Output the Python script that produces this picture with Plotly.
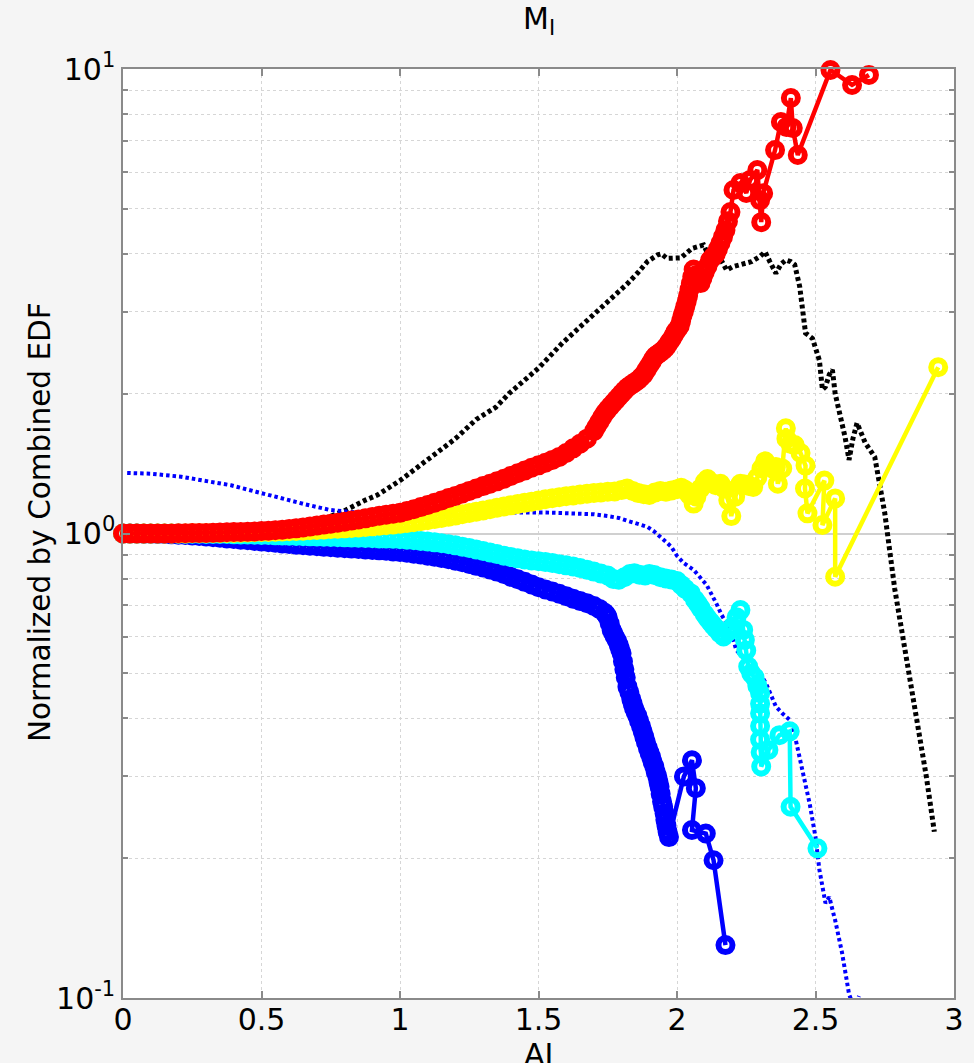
import plotly.graph_objects as go

# ---- Normalized EDF curves: (AI, ratio to combined EDF) pairs, in drawing order ----
red_pts = [
    (0.000, 1.000), (0.025, 1.000), (0.050, 1.000), (0.075, 1.000), (0.100, 1.000),
    (0.125, 1.000), (0.150, 1.000), (0.175, 1.000), (0.200, 1.001), (0.225, 1.001),
    (0.250, 1.002), (0.275, 1.002), (0.300, 1.003), (0.325, 1.004), (0.350, 1.005),
    (0.375, 1.006), (0.400, 1.007), (0.425, 1.008), (0.450, 1.009), (0.475, 1.010),
    (0.500, 1.012), (0.525, 1.014), (0.550, 1.016), (0.575, 1.019), (0.600, 1.022),
    (0.625, 1.026), (0.650, 1.030), (0.675, 1.035), (0.700, 1.040), (0.725, 1.045),
    (0.750, 1.050), (0.775, 1.055), (0.800, 1.060), (0.825, 1.066), (0.850, 1.072),
    (0.875, 1.078), (0.900, 1.085), (0.925, 1.092), (0.950, 1.098), (0.975, 1.103),
    (1.000, 1.108), (1.025, 1.118), (1.050, 1.128), (1.075, 1.140), (1.100, 1.152),
    (1.125, 1.165), (1.150, 1.178), (1.175, 1.192), (1.200, 1.205), (1.225, 1.220),
    (1.250, 1.235), (1.275, 1.250), (1.300, 1.265), (1.325, 1.280), (1.350, 1.295),
    (1.375, 1.312), (1.400, 1.330), (1.425, 1.348), (1.450, 1.366), (1.475, 1.385),
    (1.500, 1.402), (1.525, 1.420), (1.550, 1.440), (1.575, 1.462), (1.600, 1.490),
    (1.625, 1.525), (1.650, 1.560), (1.675, 1.600), (1.700, 1.660), (1.710, 1.700),
    (1.720, 1.740), (1.730, 1.780), (1.740, 1.820), (1.750, 1.850), (1.760, 1.880),
    (1.770, 1.910), (1.780, 1.940), (1.790, 1.970), (1.800, 2.000), (1.810, 2.030),
    (1.820, 2.060), (1.830, 2.080), (1.840, 2.100), (1.850, 2.120), (1.860, 2.140),
    (1.870, 2.170), (1.880, 2.200), (1.890, 2.250), (1.900, 2.300), (1.908, 2.340),
    (1.915, 2.380), (1.922, 2.410), (1.930, 2.430), (1.940, 2.455), (1.950, 2.480),
    (1.958, 2.510), (1.965, 2.540), (1.972, 2.580), (1.980, 2.620), (1.988, 2.670),
    (1.995, 2.720), (2.003, 2.760), (2.010, 2.800), (2.015, 2.870), (2.020, 2.950),
    (2.025, 3.010), (2.030, 3.080), (2.035, 3.160), (2.040, 3.250), (2.045, 3.350),
    (2.050, 3.450), (2.055, 3.570), (2.060, 3.700), (2.070, 3.600), (2.078, 3.530),
    (2.085, 3.460), (2.092, 3.550), (2.100, 3.650), (2.110, 3.760), (2.120, 3.880),
    (2.130, 3.940), (2.140, 4.000), (2.148, 4.100), (2.157, 4.220), (2.166, 4.350),
    (2.175, 4.500), (2.184, 4.700), (2.193, 4.920), (2.204, 5.490), (2.229, 5.680),
    (2.250, 5.410), (2.264, 5.770), (2.290, 6.060), (2.300, 5.220), (2.304, 4.680),
    (2.311, 5.400), (2.354, 6.690), (2.375, 7.690), (2.395, 7.500), (2.411, 8.660),
    (2.418, 7.460), (2.436, 6.530), (2.554, 9.950), (2.632, 9.240), (2.693, 9.710),
]

yellow_pts = [
    (0.000, 1.000), (0.025, 1.000), (0.050, 1.000), (0.075, 1.000), (0.100, 1.000),
    (0.125, 1.000), (0.150, 1.000), (0.175, 1.000), (0.200, 1.000), (0.225, 1.000),
    (0.250, 1.001), (0.275, 1.001), (0.300, 1.001), (0.325, 1.002), (0.350, 1.002),
    (0.375, 1.003), (0.400, 1.003), (0.425, 1.004), (0.450, 1.005), (0.475, 1.006),
    (0.500, 1.007), (0.525, 1.008), (0.550, 1.009), (0.575, 1.010), (0.600, 1.011),
    (0.625, 1.013), (0.650, 1.014), (0.675, 1.016), (0.700, 1.018), (0.725, 1.020),
    (0.750, 1.022), (0.775, 1.024), (0.800, 1.026), (0.825, 1.028), (0.850, 1.030),
    (0.875, 1.033), (0.900, 1.036), (0.925, 1.039), (0.950, 1.042), (0.975, 1.045),
    (1.000, 1.049), (1.025, 1.053), (1.050, 1.058), (1.075, 1.063), (1.100, 1.068),
    (1.125, 1.074), (1.150, 1.080), (1.175, 1.086), (1.200, 1.093), (1.225, 1.100),
    (1.250, 1.107), (1.275, 1.114), (1.300, 1.121), (1.325, 1.128), (1.350, 1.136),
    (1.375, 1.143), (1.400, 1.150), (1.425, 1.157), (1.450, 1.164), (1.475, 1.171),
    (1.500, 1.178), (1.525, 1.185), (1.550, 1.191), (1.575, 1.197), (1.600, 1.203),
    (1.625, 1.208), (1.650, 1.213), (1.675, 1.218), (1.700, 1.222), (1.725, 1.226),
    (1.750, 1.230), (1.775, 1.232), (1.800, 1.240), (1.820, 1.250), (1.840, 1.235),
    (1.860, 1.222), (1.880, 1.215), (1.900, 1.210), (1.920, 1.225), (1.940, 1.235),
    (1.960, 1.230), (1.980, 1.238), (2.000, 1.245), (2.015, 1.255), (2.030, 1.240),
    (2.045, 1.210), (2.060, 1.160), (2.070, 1.200), (2.085, 1.250), (2.100, 1.290),
    (2.110, 1.310), (2.125, 1.285), (2.140, 1.270), (2.157, 1.280), (2.170, 1.250),
    (2.185, 1.180), (2.196, 1.090), (2.210, 1.200), (2.229, 1.280), (2.245, 1.275),
    (2.260, 1.265), (2.275, 1.260), (2.290, 1.320), (2.305, 1.380), (2.318, 1.430),
    (2.330, 1.400), (2.345, 1.380), (2.357, 1.390), (2.364, 1.280), (2.380, 1.380),
    (2.393, 1.685), (2.395, 1.600), (2.410, 1.560), (2.425, 1.550), (2.446, 1.490),
    (2.464, 1.400), (2.462, 1.250), (2.471, 1.105), (2.532, 1.300), (2.525, 1.043),
    (2.571, 1.190), (2.571, 0.807), (2.943, 2.280),
]

cyan_pts = [
    (0.000, 1.000), (0.025, 1.000), (0.050, 1.000), (0.075, 1.000), (0.100, 1.000),
    (0.125, 1.000), (0.150, 1.000), (0.175, 1.000), (0.200, 1.000), (0.225, 0.999),
    (0.250, 0.999), (0.275, 0.999), (0.300, 0.998), (0.325, 0.998), (0.350, 0.997),
    (0.375, 0.997), (0.400, 0.996), (0.425, 0.995), (0.450, 0.995), (0.475, 0.994),
    (0.500, 0.993), (0.525, 0.992), (0.550, 0.991), (0.575, 0.990), (0.600, 0.989),
    (0.625, 0.988), (0.650, 0.987), (0.675, 0.986), (0.700, 0.985), (0.725, 0.984),
    (0.750, 0.983), (0.775, 0.982), (0.800, 0.981), (0.825, 0.980), (0.850, 0.979),
    (0.875, 0.978), (0.900, 0.977), (0.925, 0.976), (0.950, 0.975), (0.975, 0.974),
    (1.000, 0.972), (1.025, 0.970), (1.050, 0.967), (1.075, 0.964), (1.100, 0.961),
    (1.125, 0.957), (1.150, 0.953), (1.175, 0.948), (1.200, 0.943), (1.225, 0.937),
    (1.250, 0.931), (1.275, 0.924), (1.300, 0.917), (1.325, 0.910), (1.350, 0.903),
    (1.375, 0.896), (1.400, 0.890), (1.425, 0.884), (1.450, 0.879), (1.475, 0.875),
    (1.500, 0.872), (1.525, 0.868), (1.550, 0.864), (1.575, 0.859), (1.600, 0.854),
    (1.625, 0.849), (1.650, 0.843), (1.675, 0.836), (1.700, 0.828), (1.725, 0.820),
    (1.750, 0.812), (1.770, 0.798), (1.790, 0.795), (1.810, 0.805), (1.830, 0.818),
    (1.846, 0.821), (1.865, 0.815), (1.885, 0.812), (1.900, 0.818), (1.918, 0.814),
    (1.940, 0.805), (1.960, 0.800), (1.980, 0.796), (2.000, 0.790), (2.015, 0.775),
    (2.030, 0.760), (2.050, 0.743), (2.065, 0.720), (2.076, 0.705), (2.086, 0.690),
    (2.100, 0.670), (2.110, 0.657), (2.121, 0.645), (2.130, 0.635), (2.140, 0.625),
    (2.155, 0.610), (2.168, 0.600), (2.185, 0.615), (2.200, 0.630), (2.215, 0.660),
    (2.229, 0.684), (2.239, 0.620), (2.245, 0.590), (2.250, 0.560), (2.257, 0.517),
    (2.268, 0.500), (2.280, 0.490), (2.290, 0.470), (2.300, 0.453), (2.300, 0.430),
    (2.300, 0.410), (2.300, 0.385), (2.300, 0.360), (2.302, 0.338), (2.304, 0.315),
    (2.330, 0.342), (2.370, 0.368), (2.407, 0.375), (2.410, 0.258), (2.507, 0.210),
]

blue_pts = [
    (0.000, 1.000), (0.025, 1.000), (0.050, 1.000), (0.075, 0.999), (0.100, 0.999),
    (0.125, 0.998), (0.150, 0.997), (0.175, 0.996), (0.200, 0.994), (0.225, 0.992),
    (0.250, 0.990), (0.275, 0.988), (0.300, 0.985), (0.325, 0.982), (0.350, 0.979),
    (0.375, 0.976), (0.400, 0.973), (0.425, 0.970), (0.450, 0.967), (0.475, 0.964),
    (0.500, 0.961), (0.525, 0.958), (0.550, 0.955), (0.575, 0.952), (0.600, 0.949),
    (0.625, 0.946), (0.650, 0.944), (0.675, 0.941), (0.700, 0.939), (0.725, 0.936),
    (0.750, 0.934), (0.775, 0.932), (0.800, 0.930), (0.825, 0.928), (0.850, 0.926),
    (0.875, 0.924), (0.900, 0.922), (0.925, 0.920), (0.950, 0.918), (0.975, 0.915),
    (1.000, 0.912), (1.025, 0.909), (1.050, 0.905), (1.075, 0.901), (1.100, 0.896),
    (1.125, 0.891), (1.150, 0.886), (1.175, 0.880), (1.200, 0.874), (1.225, 0.867),
    (1.250, 0.860), (1.275, 0.852), (1.300, 0.845), (1.325, 0.837), (1.350, 0.828),
    (1.375, 0.818), (1.400, 0.807), (1.425, 0.797), (1.450, 0.787), (1.475, 0.777),
    (1.500, 0.766), (1.525, 0.758), (1.550, 0.750), (1.575, 0.742), (1.600, 0.733),
    (1.625, 0.724), (1.650, 0.716), (1.675, 0.708), (1.700, 0.698), (1.720, 0.688),
    (1.739, 0.675), (1.745, 0.668), (1.750, 0.660), (1.757, 0.640), (1.764, 0.620),
    (1.770, 0.610), (1.775, 0.600), (1.783, 0.588), (1.790, 0.575), (1.795, 0.563),
    (1.800, 0.552), (1.805, 0.530), (1.810, 0.510), (1.815, 0.490), (1.821, 0.468),
    (1.828, 0.455), (1.835, 0.440), (1.840, 0.430), (1.845, 0.420), (1.851, 0.412),
    (1.857, 0.405), (1.863, 0.395), (1.870, 0.385), (1.876, 0.375), (1.882, 0.365),
    (1.888, 0.355), (1.895, 0.345), (1.901, 0.337), (1.907, 0.330), (1.912, 0.322),
    (1.918, 0.315), (1.923, 0.307), (1.929, 0.300), (1.933, 0.292), (1.937, 0.285),
    (1.941, 0.275), (1.946, 0.265), (1.950, 0.258), (1.955, 0.250), (1.958, 0.242),
    (1.962, 0.235), (1.966, 0.228), (1.971, 0.222), (2.025, 0.300), (2.054, 0.325),
    (2.068, 0.283), (2.054, 0.230), (2.104, 0.226), (2.132, 0.198), (2.175, 0.130),
]

black_pts = [
    (0.000, 1.000), (0.100, 1.000), (0.200, 1.002), (0.300, 1.005), (0.400, 1.010),
    (0.500, 1.020), (0.600, 1.035), (0.700, 1.060), (0.733, 1.078), (0.800, 1.120),
    (0.875, 1.180), (0.918, 1.210), (1.000, 1.300), (1.036, 1.350), (1.100, 1.440),
    (1.157, 1.530), (1.200, 1.600), (1.275, 1.760), (1.346, 1.870), (1.393, 2.000),
    (1.464, 2.170), (1.500, 2.270), (1.586, 2.570), (1.650, 2.780), (1.704, 2.980),
    (1.760, 3.200), (1.821, 3.450), (1.860, 3.650), (1.893, 3.850), (1.930, 3.980),
    (1.943, 4.000), (1.964, 3.910), (1.990, 3.920), (2.014, 3.920), (2.054, 4.110),
    (2.075, 4.150), (2.096, 4.180), (2.120, 3.900), (2.140, 3.800), (2.157, 3.900),
    (2.179, 3.690), (2.200, 3.750), (2.239, 3.810), (2.270, 3.850), (2.300, 3.950),
    (2.318, 4.040), (2.335, 3.850), (2.357, 3.630), (2.375, 3.800), (2.393, 3.880),
    (2.410, 3.850), (2.425, 3.790), (2.443, 3.400), (2.464, 2.700), (2.489, 2.630),
    (2.500, 2.500), (2.514, 2.360), (2.525, 2.040), (2.536, 2.070), (2.550, 2.200),
    (2.561, 2.250), (2.571, 2.000), (2.590, 1.800), (2.607, 1.610), (2.621, 1.440),
    (2.635, 1.600), (2.650, 1.730), (2.665, 1.650), (2.679, 1.570), (2.714, 1.460),
    (2.730, 1.300), (2.750, 1.107), (2.786, 0.760), (2.820, 0.580), (2.860, 0.420),
    (2.900, 0.300), (2.929, 0.228),
]

bluedot_pts = [
    (0.015, 1.350), (0.100, 1.345), (0.210, 1.325), (0.300, 1.300), (0.390, 1.270),
    (0.480, 1.230), (0.570, 1.190), (0.660, 1.155), (0.746, 1.124), (0.800, 1.115),
    (0.875, 1.105), (0.950, 1.100), (1.000, 1.100), (1.100, 1.100), (1.200, 1.105),
    (1.300, 1.110), (1.400, 1.112), (1.464, 1.108), (1.518, 1.110), (1.580, 1.107),
    (1.632, 1.105), (1.700, 1.100), (1.750, 1.090), (1.790, 1.080), (1.821, 1.065),
    (1.860, 1.050), (1.893, 1.034), (1.918, 1.010), (1.954, 0.968), (1.979, 0.937),
    (2.000, 0.895), (2.025, 0.863), (2.060, 0.835), (2.086, 0.800), (2.107, 0.775),
    (2.143, 0.705), (2.161, 0.668), (2.193, 0.620), (2.214, 0.561), (2.240, 0.540),
    (2.275, 0.517), (2.300, 0.500), (2.321, 0.476), (2.340, 0.450), (2.357, 0.424),
    (2.380, 0.410), (2.407, 0.397), (2.429, 0.359), (2.454, 0.310), (2.479, 0.262),
    (2.500, 0.222), (2.514, 0.189), (2.536, 0.160), (2.550, 0.165), (2.561, 0.155),
    (2.571, 0.147), (2.596, 0.125), (2.621, 0.102), (2.640, 0.095), (2.657, 0.101),
]

x_ticks = [0, 0.5, 1, 1.5, 2, 2.5, 3]
x_tick_text = ["0", "0.5", "1", "1.5", "2", "2.5", "3"]
y_ticks = [0.1, 1, 10]
y_tick_text = ["10<sup>-1</sup>", "10<sup>0</sup>", "10<sup>1</sup>"]
y_minor = [0.2, 0.3, 0.4, 0.5, 0.6, 0.7, 0.8, 0.9, 2, 3, 4, 5, 6, 7, 8, 9]

FONT = "DejaVu Sans, Verdana, sans-serif"
AXIS_GRAY = "#8a8a8a"
GRID_GRAY = "#d6d6d6"


def xs(pts):
    return [p[0] for p in pts]


def ys(pts):
    return [p[1] for p in pts]


fig = go.Figure()

# dotted reference curves (drawn underneath the marker curves)
fig.add_trace(go.Scatter(x=xs(black_pts), y=ys(black_pts), mode="lines",
                         line=dict(color="black", width=5, dash="4px,3px"),
                         showlegend=False))
fig.add_trace(go.Scatter(x=xs(bluedot_pts), y=ys(bluedot_pts), mode="lines",
                         line=dict(color="#0000ff", width=4, dash="3.5px,3px"),
                         showlegend=False))


def marker_curve(pts, color):
    return go.Scatter(
        x=xs(pts), y=ys(pts), mode="lines+markers",
        line=dict(color=color, width=4.5),
        marker=dict(symbol="circle-open", size=14, color=color,
                    line=dict(width=6, color=color)),
        cliponaxis=False, showlegend=False)


fig.add_trace(marker_curve(blue_pts, "#0000ff"))
fig.add_trace(marker_curve(cyan_pts, "#00ffff"))
fig.add_trace(marker_curve(yellow_pts, "#ffff00"))
fig.add_trace(marker_curve(red_pts, "#ff0000"))

fig.update_layout(
    width=974, height=1063,
    margin=dict(l=123, r=10, t=69, b=65),
    paper_bgcolor="#f5f5f5",
    plot_bgcolor="white",
    font=dict(family=FONT, size=30, color="black"),
    xaxis=dict(
        range=[0, 3], tickmode="array", tickvals=x_ticks, ticktext=x_tick_text,
        showline=True, linecolor=AXIS_GRAY, linewidth=1.5, mirror="ticks",
        ticks="inside", ticklen=7, tickcolor=AXIS_GRAY, tickwidth=1.5,
        showgrid=True, gridcolor=GRID_GRAY, griddash="dot", gridwidth=1,
        zeroline=False, tickfont=dict(size=30), ticklabelstandoff=-6,
    ),
    yaxis=dict(
        type="log", range=[-1, 1], tickmode="array", tickvals=y_ticks,
        ticktext=y_tick_text,
        showline=True, linecolor=AXIS_GRAY, linewidth=1.5, mirror="ticks",
        ticks="inside", ticklen=7, tickcolor=AXIS_GRAY, tickwidth=1.5,
        showgrid=True, gridcolor="#d0d0d0", gridwidth=1.5,
        zeroline=False, tickfont=dict(size=30),
        minor=dict(tickmode="array", tickvals=y_minor, ticks="inside",
                   ticklen=5, tickcolor=AXIS_GRAY, tickwidth=1.5,
                   showgrid=True, gridcolor=GRID_GRAY, griddash="dot",
                   gridwidth=1),
    ),
    annotations=[
        dict(text="M<sub>I</sub>", xref="paper", yref="paper",
             x=0.5, y=1.052, xanchor="center", yanchor="middle",
             showarrow=False, font=dict(size=30)),
        dict(text="AI", xref="paper", yref="paper",
             x=0.5, y=-0.061, xanchor="center", yanchor="middle",
             showarrow=False, font=dict(size=30)),
        dict(text="Normalized by Combined EDF", xref="paper", yref="paper",
             x=-0.099, y=0.512, xanchor="center", yanchor="middle",
             textangle=-90, showarrow=False, font=dict(size=29.5)),
    ],
)

fig.write_html("out.html")
